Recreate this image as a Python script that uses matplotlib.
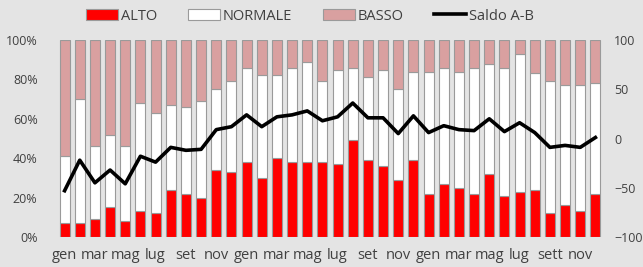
import matplotlib.pyplot as plt
import numpy as np

# months (one bar per month, 3 years)
months = ["gen", "feb", "mar", "apr", "mag", "giu", "lug", "ago", "set", "ott", "nov", "dic"] * 3
tick_labels = ["gen", "mar", "mag", "lug", "set", "nov",
               "gen", "mar", "mag", "lug", "set", "nov",
               "gen", "mar", "mag", "lug", "sett", "nov"]

# percentages
alto = [7, 7, 9, 15, 8, 13, 12, 24, 22, 20, 34, 33,
        38, 30, 40, 38, 38, 38, 37, 49, 39, 36, 29, 39,
        22, 27, 25, 22, 32, 21, 23, 24, 12, 16, 13, 22]
alto_normale = [41, 70, 46, 52, 46, 68, 63, 67, 66, 69, 75, 79,
                86, 82, 82, 86, 89, 79, 85, 86, 81, 85, 75, 84,
                84, 86, 84, 86, 88, 86, 93, 83, 79, 77, 77, 78]
saldo = [-53, -22, -45, -32, -46, -18, -24, -9, -12, -11, 9, 12,
         24, 12, 22, 24, 28, 18, 22, 36, 21, 21, 5, 23,
         6, 13, 9, 8, 20, 7, 16, 6, -9, -7, -9, 1]

normale = [an - a for an, a in zip(alto_normale, alto)]
basso = [100 - an for an in alto_normale]

bg = "#e4e4e4"
red = "#ff0000"
pink = "#d9a0a0"
edge = "#9a9a9a"
txt = "#404040"

plt.rcParams['font.family'] = ['Open Sans', 'DejaVu Sans']

fig = plt.figure(figsize=(6.43, 2.67), dpi=100, facecolor=bg)
ax = fig.add_axes([57 / 643, 1 - 237 / 267, 546 / 643, 197 / 267], facecolor=bg)

x = np.arange(len(months))
w = 0.66
ax.bar(x, alto, w, color=red, edgecolor=edge, linewidth=0.8, label="ALTO", zorder=2)
ax.bar(x, normale, w, bottom=alto, color="white", edgecolor=edge, linewidth=0.8,
       label="NORMALE", zorder=2)
ax.bar(x, basso, w, bottom=alto_normale, color=pink, edgecolor=edge, linewidth=0.8,
       label="BASSO", zorder=2)

ax.set_xlim(-0.5, len(months) - 0.5)
ax.set_ylim(0, 100)
ax.set_yticks([0, 20, 40, 60, 80, 100])
ax.set_yticklabels([f"{v}%" for v in [0, 20, 40, 60, 80, 100]], fontsize=9, color=txt)
ax.set_xticks(x[::2])
ax.set_xticklabels(tick_labels, fontsize=10.5, color=txt)
ax.tick_params(length=0, pad=8)
ax.tick_params(axis="y", pad=14)
for s in ax.spines.values():
    s.set_visible(False)

ax2 = ax.twinx()
ax2.plot(x, saldo, color="black", linewidth=2.6, label="Saldo A-B", zorder=3)
ax2.set_ylim(-100, 100)
ax2.set_yticks([-100, -50, 0, 50, 100])
ax2.tick_params(length=0, labelsize=9, labelcolor=txt, pad=8)
for s in ax2.spines.values():
    s.set_visible(False)

h1, l1 = ax.get_legend_handles_labels()
h2, l2 = ax2.get_legend_handles_labels()
fig.legend(h1 + h2, l1 + l2, loc="center", bbox_to_anchor=(0.482, 0.94), ncol=4,
           frameon=False, fontsize=10.5, handlelength=2.2, handleheight=0.7,
           handletextpad=0.2, columnspacing=2.1, labelcolor=txt)

fig.savefig("out.png", dpi=100, facecolor=bg)
